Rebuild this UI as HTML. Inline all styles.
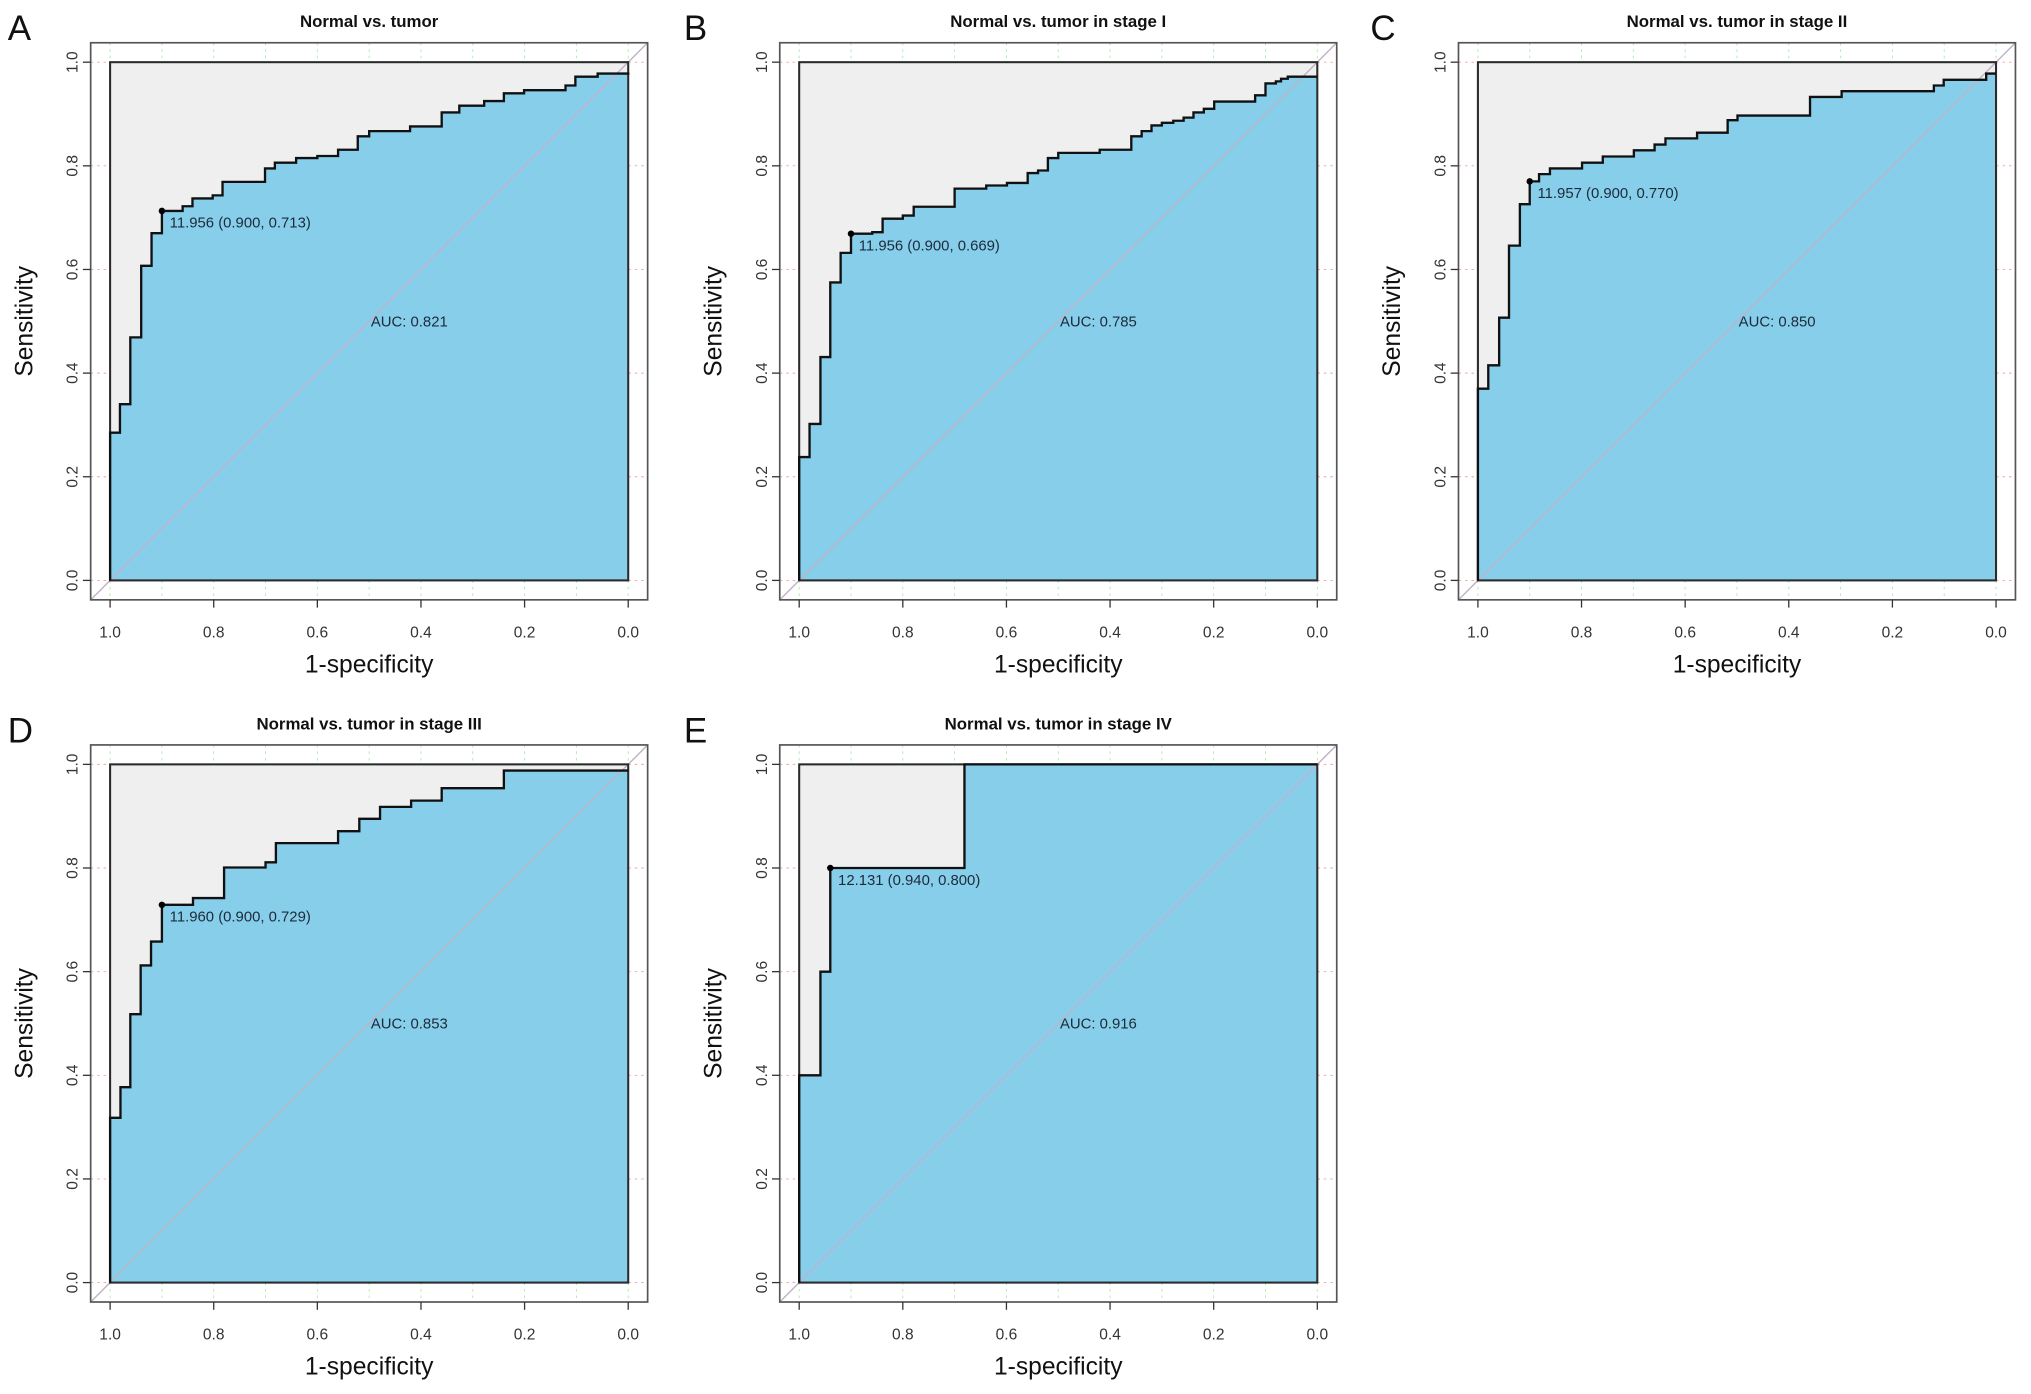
<!DOCTYPE html>
<html><head><meta charset="utf-8"><style>
html,body{margin:0;padding:0;background:#fff;}
svg{display:block;font-family:"Liberation Sans",Arial,sans-serif;}
</style></head><body>
<svg id="fig" width="2031" height="1394" viewBox="0 0 1568 1076" preserveAspectRatio="none" xmlns="http://www.w3.org/2000/svg"></svg>
<script>
// Panel A: Normal vs. tumor
const specA = [1.0,0.981,0.961,0.940,0.920,0.900,0.860,0.841,0.802,0.783,0.701,0.682,0.641,0.600,0.560,0.522,0.500,0.421,0.360,0.326,0.278,0.240,0.201,0.121,0.102,0.059,0.0];
const sensA = [0.285,0.340,0.469,0.607,0.670,0.713,0.722,0.737,0.743,0.769,0.795,0.806,0.815,0.819,0.831,0.857,0.867,0.876,0.903,0.916,0.925,0.940,0.946,0.955,0.972,0.978,0.980];
// Panel B: stage I
const specB = [1.0,0.980,0.959,0.940,0.920,0.900,0.859,0.839,0.800,0.779,0.700,0.639,0.599,0.559,0.539,0.520,0.500,0.420,0.359,0.339,0.320,0.300,0.278,0.258,0.239,0.219,0.199,0.120,0.100,0.080,0.070,0.057,0.0];
const sensB = [0.238,0.302,0.431,0.575,0.632,0.669,0.672,0.698,0.704,0.721,0.756,0.762,0.767,0.786,0.791,0.815,0.825,0.831,0.857,0.867,0.878,0.883,0.887,0.893,0.903,0.910,0.924,0.936,0.959,0.963,0.968,0.972,0.972];
// Panel C: stage II
const specC = [1.0,0.980,0.959,0.940,0.919,0.900,0.882,0.861,0.799,0.759,0.699,0.659,0.638,0.577,0.518,0.499,0.359,0.298,0.120,0.101,0.019,0.0];
const sensC = [0.370,0.415,0.507,0.646,0.726,0.770,0.784,0.795,0.806,0.818,0.830,0.841,0.853,0.864,0.888,0.897,0.933,0.944,0.955,0.966,0.978,0.978];
// Panel D: stage III
const specD = [1.0,0.980,0.961,0.941,0.921,0.900,0.840,0.780,0.700,0.680,0.560,0.519,0.479,0.419,0.360,0.240,0.0];
const sensD = [0.318,0.377,0.518,0.612,0.658,0.729,0.742,0.801,0.811,0.848,0.871,0.895,0.918,0.930,0.954,0.988,0.988];
// Panel E: stage IV
const specE = [1.0,0.959,0.940,0.681,0.0];
const sensE = [0.400,0.600,0.800,1.000,1.000];
const xTicks = [1.0,0.8,0.6,0.4,0.2,0.0];
const xTickLabels = ["1.0","0.8","0.6","0.4","0.2","0.0"];
const yTicks = [0.0,0.2,0.4,0.6,0.8,1.0];
const yTickLabels = ["0.0","0.2","0.4","0.6","0.8","1.0"];
const titles = ["Normal vs. tumor","Normal vs. tumor in stage I","Normal vs. tumor in stage II","Normal vs. tumor in stage III","Normal vs. tumor in stage IV"];
const letters = ["A","B","C","D","E"];
const aucLabels = ["AUC: 0.821","AUC: 0.785","AUC: 0.850","AUC: 0.853","AUC: 0.916"];
const optLabels = ["11.956 (0.900, 0.713)","11.956 (0.900, 0.669)","11.957 (0.900, 0.770)","11.960 (0.900, 0.729)","12.131 (0.940, 0.800)"];
const optSpec = [0.900,0.900,0.900,0.900,0.940];
const optSens = [0.713,0.669,0.770,0.729,0.800];

const NS = "http://www.w3.org/2000/svg";
const fig = document.getElementById('fig');
function mk(tag, attrs, parent, text){
  const e = document.createElementNS(NS, tag);
  for (const k in attrs) e.setAttribute(k, attrs[k]);
  if (text !== undefined) e.textContent = text;
  parent.appendChild(e);
  return e;
}
const S = 400;
const panels = [
  {L:85,T:48,letterX:6,spec:specA,sens:sensA},
  {L:617,T:48,letterX:528,spec:specB,sens:sensB},
  {L:1141,T:48,letterX:1058,spec:specC,sens:sensC},
  {L:85,T:590,letterX:6,spec:specD,sens:sensD},
  {L:617,T:590,letterX:528,spec:specE,sens:sensE}
];
panels.forEach((p, i) => {
  const L = p.L, T = p.T;
  const xs = v => L + (1 - v) * S;
  const ys = v => T + (1 - v) * S;
  const g = mk('g', {}, fig);
  
  
  const lt = mk('text', {x:p.letterX, y:T-17, 'font-size':27, fill:'#111'}, g, letters[i]);
  
  
  const tt = mk('text', {x:L+200, y:T-27, 'font-size':13, 'font-weight':'bold', 'text-anchor':'middle', fill:'#111'}, g, titles[i]);
  
  
  for (let k = 0; k <= 10; k++) {
    const gl = mk('line', {x1:xs(k/10), x2:xs(k/10), y1:T-15, y2:T+415, stroke:'#a8eca8', 'stroke-width':0.7, 'stroke-dasharray':'2,3'}, g);
    
    
  }
  yTicks.forEach(v => {
    const gl = mk('line', {x1:L-15, x2:L+415, y1:ys(v), y2:ys(v), stroke:'#f4a0a0', 'stroke-width':0.7, 'stroke-dasharray':'2,3'}, g);
    
    
  });
  const bg = mk('rect', {x:xs(1), y:ys(1), width:S, height:S, fill:'#efefef'}, g);
  
  
  let d = 'M' + xs(p.spec[0]) + ',' + ys(0) + ' L' + xs(p.spec[0]) + ',' + ys(p.sens[0]);
  for (let j = 1; j < p.spec.length; j++) {
    d += ' L' + xs(p.spec[j]) + ',' + ys(p.sens[j-1]) + ' L' + xs(p.spec[j]) + ',' + ys(p.sens[j]);
  }
  const fill = mk('path', {d: d + ' L' + xs(0) + ',' + ys(0) + ' Z', fill:'#87ceeb', stroke:'none'}, g);
  
  
  const diag = mk('line', {x1:L-15, y1:T+415, x2:L+415, y2:T-15, stroke:'#bfb3c9', 'stroke-width':1.1}, g);
  
  
  const ib = mk('rect', {x:xs(1), y:ys(1), width:S, height:S, fill:'none', stroke:'#2b2b2b', 'stroke-width':1.6}, g);
  
  
  const curve = mk('path', {d:d, fill:'none', stroke:'#111', 'stroke-width':1.8}, g);
  
  
  const ob = mk('rect', {x:L-15, y:T-15, width:430, height:430, fill:'none', stroke:'#555', 'stroke-width':1.3}, g);
  
  
  xTicks.forEach((v, k) => {
    mk('line', {x1:xs(v), x2:xs(v), y1:T+415, y2:T+421, stroke:'#333', 'stroke-width':1}, g);
    const tl = mk('text', {x:xs(v), y:T+444, 'font-size':12, 'text-anchor':'middle', fill:'#333'}, g, xTickLabels[k]);
    
    
  });
  yTicks.forEach((v, k) => {
    mk('line', {x1:L-15, x2:L-21, y1:ys(v), y2:ys(v), stroke:'#333', 'stroke-width':1}, g);
    const tx = L-29, ty = ys(v);
    const tl = mk('text', {x:tx, y:ty+4, 'font-size':12, 'text-anchor':'middle', fill:'#333', transform:'rotate(-90 '+tx+' '+ty+')'}, g, yTickLabels[k]);
    
    
  });
  const xt = mk('text', {x:L+200, y:T+471, 'font-size':19, 'text-anchor':'middle', fill:'#111'}, g, '1-specificity');
  
  
  const yx = L-67, yy = T+200;
  const yt = mk('text', {x:yx, y:yy+7, 'font-size':19, 'text-anchor':'middle', fill:'#111', transform:'rotate(-90 '+yx+' '+yy+')'}, g, 'Sensitivity');
  
  
  const pt = mk('circle', {cx:xs(optSpec[i]), cy:ys(optSens[i]), r:2.5, fill:'#000'}, g);
  
  
  const ol = mk('text', {x:xs(optSpec[i])+6, y:ys(optSens[i])+13, 'font-size':11.5, fill:'#1c2b3a'}, g, optLabels[i]);
  
  
  const al = mk('text', {x:xs(0.5)+31, y:ys(0.5)+4, 'font-size':11.5, 'text-anchor':'middle', fill:'#1c2b3a'}, g, aucLabels[i]);
  
  
});
</script>
</body></html>
